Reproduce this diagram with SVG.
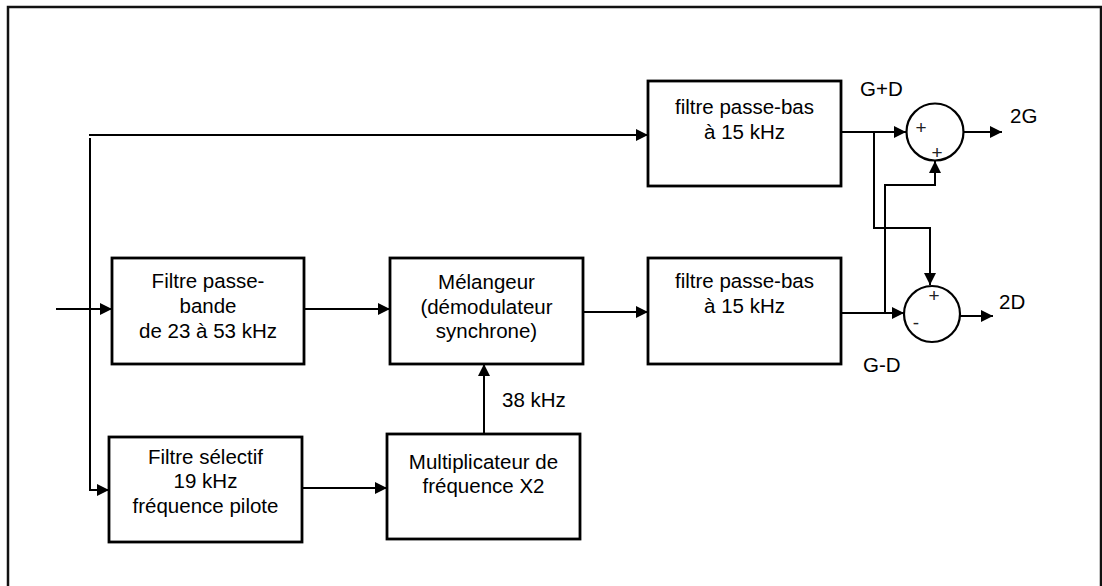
<svg xmlns="http://www.w3.org/2000/svg" width="1102" height="586" viewBox="0 0 1102 586">
<style>
.box{fill:#fff;stroke:#000;stroke-width:2.8}
.t{font-family:"Liberation Sans",Arial,sans-serif;font-size:20.5px;fill:#000;text-anchor:middle}
.lbl{font-family:"Liberation Sans",Arial,sans-serif;font-size:20.5px;fill:#000}
.sign{font-family:"Liberation Sans",Arial,sans-serif;font-size:19px;fill:#222;text-anchor:middle}
.c{fill:none;stroke:#000;stroke-width:2}
.sum{fill:#fff;stroke:#000;stroke-width:2.2}
</style>
<defs>
<marker id="ah" markerUnits="userSpaceOnUse" markerWidth="13" markerHeight="12" refX="12" refY="6" orient="auto">
<path d="M0,0 L12,6 L0,12 z" fill="#000"/>
</marker>
</defs>
<rect x="0" y="0" width="1102" height="586" fill="#fff"/>
<rect x="8" y="7" width="1093" height="620" fill="none" stroke="#111" stroke-width="2.5"/>

<g id="connectors">
<path class="c" d="M89,135 H648" marker-end="url(#ah)"/>
<path class="c" d="M90,138 V490 H109" marker-end="url(#ah)"/>
<path class="c" d="M56,309 H112" marker-end="url(#ah)"/>
<path class="c" d="M304,309 H390" marker-end="url(#ah)"/>
<path class="c" d="M583,312 H648" marker-end="url(#ah)"/>
<path class="c" d="M484,433 V364" marker-end="url(#ah)"/>
<path class="c" d="M302,488 H387" marker-end="url(#ah)"/>
<path class="c" d="M841,132 H906" marker-end="url(#ah)"/>
<path class="c" d="M874,132 V228 H930 V285" marker-end="url(#ah)"/>
<path class="c" d="M841,313 H904" marker-end="url(#ah)"/>
<path class="c" d="M885,313 V185 H935 V161" marker-end="url(#ah)"/>
<path class="c" d="M963,132 H1002" marker-end="url(#ah)"/>
<path class="c" d="M960,316 H993" marker-end="url(#ah)"/>
</g>

<g id="lpf-top">
<rect class="box" x="648" y="81" width="193" height="105"/>
<text class="t" x="744.5" y="114">filtre passe-bas</text>
<text class="t" x="744.5" y="139">à 15 kHz</text>
</g>
<g id="bpf">
<rect class="box" x="112" y="258" width="192" height="106"/>
<text class="t" x="208" y="288">Filtre passe-</text>
<text class="t" x="208" y="313">bande</text>
<text class="t" x="208" y="338">de 23 à 53 kHz</text>
</g>
<g id="mixer">
<rect class="box" x="390" y="258" width="193" height="106"/>
<text class="t" x="486.5" y="289">Mélangeur</text>
<text class="t" x="486.5" y="314">(démodulateur</text>
<text class="t" x="486.5" y="338">synchrone)</text>
</g>
<g id="lpf-bottom">
<rect class="box" x="648" y="258" width="193" height="106"/>
<text class="t" x="744.5" y="288">filtre passe-bas</text>
<text class="t" x="744.5" y="313">à 15 kHz</text>
</g>
<g id="pilot">
<rect class="box" x="109" y="437" width="193" height="105"/>
<text class="t" x="205.5" y="464">Filtre sélectif</text>
<text class="t" x="205.5" y="488">19 kHz</text>
<text class="t" x="205.5" y="513">fréquence pilote</text>
</g>
<g id="doubler">
<rect class="box" x="387" y="434" width="193" height="105"/>
<text class="t" x="483.5" y="469">Multiplicateur de</text>
<text class="t" x="483.5" y="493">fréquence X2</text>
</g>
<g id="label-38">
<text class="lbl" x="502" y="407">38 kHz</text>
</g>
<g id="sum-top">
<circle class="sum" cx="935" cy="132" r="28.5"/>
<text class="sign" x="921" y="134">+</text>
<text class="sign" x="937" y="159">+</text>
</g>
<g id="sum-bottom">
<circle class="sum" cx="932" cy="314" r="28"/>
<text class="sign" x="934" y="302">+</text>
<text class="sign" x="916" y="329">-</text>
</g>
<g id="labels">
<text class="lbl" x="860" y="96">G+D</text>
<text class="lbl" x="863" y="372">G-D</text>
<text class="lbl" x="1010" y="123">2G</text>
<text class="lbl" x="999" y="309">2D</text>
</g>
</svg>
